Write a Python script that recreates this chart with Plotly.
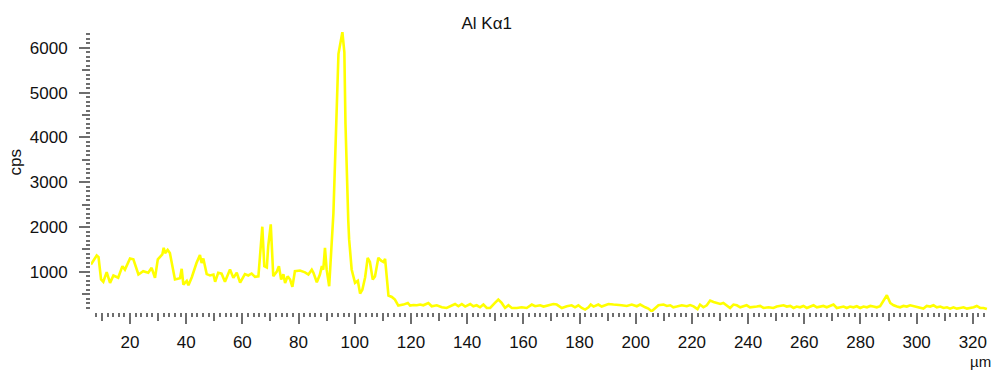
import plotly.graph_objects as go

# ---- data ----
position_um = [
    6.1, 7.0, 8.15, 8.8, 9.7, 10.5, 11.7, 12.9, 14.1, 15.8, 17.3, 18.2, 20.0, 21.2, 23.0, 24.7,
    26.5, 27.7, 28.9, 29.9, 31.5, 32.0, 32.5, 33.4, 34.2, 36.0, 37.8, 38.4, 39.0, 40.2, 40.8,
    42.0, 43.7, 44.9, 45.5, 46.1, 47.3, 48.5, 49.7, 50.3, 51.4, 52.6, 53.8, 55.6, 56.8, 58.0,
    59.2, 60.9, 62.1, 63.3, 64.5, 65.7, 66.3, 67.1, 67.8, 68.7, 69.2, 70.1, 71.0, 72.2, 73.0,
    73.8, 74.6, 75.2, 76.1, 77.0, 77.8, 78.7, 80.5, 82.3, 83.5, 84.7, 85.3, 86.5, 87.6, 88.3,
    88.8, 89.4, 90.0, 90.9, 92.4, 93.3, 94.2, 95.6, 96.3, 96.7, 97.2, 97.7, 98.0, 98.9, 100.1,
    101.1, 101.9, 102.7, 103.7, 104.6, 105.4, 106.4, 107.2, 108.4, 109.4, 110.2, 110.8, 111.4,
    112.0, 113.2, 114.3, 115.5, 117.3, 118.9, 119.7, 120.9, 122.1, 123.3, 124.4, 126.2, 127.4,
    129.2, 131.0, 132.7, 134.5, 135.7, 136.9, 138.1, 139.3, 141.1, 142.2, 143.4, 144.6, 145.8,
    147.0, 148.2, 149.9, 151.1, 152.3, 153.5, 154.7, 155.9, 157.7, 159.4, 161.2, 163.0, 164.2,
    166.0, 167.2, 168.9, 170.7, 171.9, 173.7, 175.5, 177.2, 178.4, 179.6, 180.8, 182.0, 183.2,
    184.0, 185.0, 186.7, 187.9, 189.5, 190.3, 192.1, 193.9, 195.0, 196.8, 198.6, 200.4, 201.6,
    203.4, 204.5, 205.7, 206.9, 208.1, 209.9, 211.1, 212.3, 213.4, 214.6, 216.4, 218.2, 219.4,
    220.6, 222.0, 222.9, 224.1, 225.3, 226.5, 227.7, 228.9, 230.1, 231.2, 232.4, 233.6, 234.8,
    236.0, 237.2, 238.4, 239.5, 240.7, 241.9, 243.1, 244.3, 245.5, 247.3, 249.0, 250.2, 251.4,
    252.6, 253.8, 255.0, 256.2, 257.3, 258.5, 259.7, 260.9, 262.1, 263.3, 264.5, 265.6, 266.8,
    268.0, 269.2, 270.4, 271.6, 272.8, 274.0, 275.1, 276.3, 277.5, 278.7, 279.9, 281.1, 282.3,
    283.5, 284.6, 285.8, 287.0, 288.2, 289.4, 290.6, 291.8, 293.0, 294.1, 295.3, 296.5, 297.7,
    298.9, 300.1, 301.3, 302.4, 303.6, 304.8, 306.0, 307.2, 308.4, 309.6, 310.8, 311.9, 313.1,
    314.3, 315.5, 316.7, 317.9, 319.1, 320.3, 321.4, 322.6, 323.8, 325.0,
]
cps = [
    1166, 1250, 1367, 1330, 830, 780, 994, 755, 920, 870, 1128, 1050, 1300, 1280, 942, 1016,
    980, 1090, 866, 1278, 1390, 1538, 1420, 1490, 1420, 830, 860, 1068, 718, 800, 700,
    880, 1202, 1374, 1200, 1300, 950, 920, 940, 780, 980, 960, 780, 1054, 866, 980,
    760, 950, 920, 964, 890, 900, 1352, 2008, 1128, 1100, 1576, 2061, 904, 1000, 1128,
    830, 950, 754, 900, 830, 665, 1016, 1030, 990, 940, 1050, 980, 770, 940, 1128,
    1050, 1538, 1050, 680, 2300, 4373, 5866, 6350, 5900, 4300, 2880, 2135, 1725, 1054, 754,
    800, 517, 600, 880, 1314, 1220, 830, 900, 1314, 1250, 1220, 1290, 820,
    472, 440, 383, 248, 270, 307, 248, 260, 255, 271, 255, 307, 233,
    255, 210, 195, 255, 284, 233, 284, 226, 284, 233, 255, 210, 271,
    195, 195, 307, 383, 307, 195, 255, 195, 195, 210, 195, 271, 233,
    255, 226, 255, 284, 271, 195, 233, 255, 210, 255, 195, 159, 210,
    271, 226, 271, 226, 255, 284, 271, 271, 255, 240, 271, 233, 271,
    210, 181, 121, 195, 255, 271, 240, 255, 210, 226, 255, 233, 260,
    230, 170, 270, 210, 255, 360, 330, 307, 284, 307, 255, 195, 271,
    255, 210, 233, 255, 210, 226, 226, 240, 195, 210, 195, 226, 240,
    255, 226, 240, 195, 226, 210, 240, 195, 226, 255, 210, 226, 240,
    210, 240, 271, 195, 210, 226, 195, 226, 210, 233, 195, 226, 210,
    240, 226, 210, 233, 345, 479, 307, 255, 226, 210, 240, 226, 255,
    240, 226, 210, 181, 240, 226, 255, 210, 226, 195, 210, 181, 210,
    181, 195, 210, 181, 195, 210, 240, 195, 195, 170,
]
x_major_ticks = list(range(20, 321, 20))
x_mid_ticks = list(range(10, 331, 20))
y_major_ticks = [1000, 2000, 3000, 4000, 5000, 6000]
y_mid_ticks = [500, 1500, 2500, 3500, 4500, 5500]
title_text = "Al K\u03b11"
x_unit = "\u00b5m"
y_unit = "cps"

X_RANGE = [6.12, 325.4]
Y_RANGE = [105, 6352]

TICK_COLOR = "#6e6e6e"
FONT = "Liberation Sans, Arial, Helvetica, sans-serif"

fig = go.Figure()
fig.add_trace(go.Scatter(
    x=position_um, y=cps, mode="lines",
    line=dict(color="#ffff00", width=2.6),
    hoverinfo="x+y", showlegend=False,
))
# empty trace so the secondary (medium-tick) axes get drawn
fig.add_trace(go.Scatter(x=[], y=[], xaxis="x2", yaxis="y2", showlegend=False))

common_axis = dict(showgrid=False, zeroline=False, showline=False,
                   ticks="outside", tickcolor=TICK_COLOR, tickwidth=1.6)

fig.update_layout(
    width=993, height=370,
    margin=dict(l=91, r=5, t=32, b=58),
    paper_bgcolor="white", plot_bgcolor="white",
    font=dict(family=FONT, size=17, color="#111111"),
    title=dict(text=title_text, x=486.7 / 993, xref="container", xanchor="center",
               y=1 - 23 / 370, yref="container", yanchor="middle",
               font=dict(family=FONT, size=17, color="#111111")),
    xaxis=dict(range=X_RANGE, tickvals=x_major_ticks, ticklen=11,
               ticklabelstandoff=4,
               minor=dict(dtick=2, tick0=0, ticklen=4, tickcolor=TICK_COLOR,
                          tickwidth=1.6, ticks="outside", showgrid=False),
               **common_axis),
    yaxis=dict(range=Y_RANGE, tickvals=y_major_ticks, ticklen=11,
               ticklabelstandoff=8,
               minor=dict(dtick=100, tick0=0, ticklen=4, tickcolor=TICK_COLOR,
                          tickwidth=1.6, ticks="outside", showgrid=False),
               **common_axis),
    xaxis2=dict(range=X_RANGE, overlaying="x", anchor="y", side="bottom",
                tickvals=x_mid_ticks, ticklen=8, showticklabels=False,
                **common_axis),
    yaxis2=dict(range=Y_RANGE, overlaying="y", anchor="x", side="left",
                tickvals=y_mid_ticks, ticklen=8, showticklabels=False,
                **common_axis),
    annotations=[
        dict(text=y_unit, textangle=-90, xref="paper", yref="paper",
             x=(15 - 91) / 897, y=(311.5 - 162) / 280, showarrow=False,
             xanchor="center", yanchor="middle", font=dict(size=17)),
        dict(text=x_unit, xref="paper", yref="paper",
             x=(980 - 91) / 897, y=(311.5 - 361) / 280, showarrow=False,
             xanchor="center", yanchor="middle", font=dict(size=15)),
    ],
)

fig.write_html("out.html")
